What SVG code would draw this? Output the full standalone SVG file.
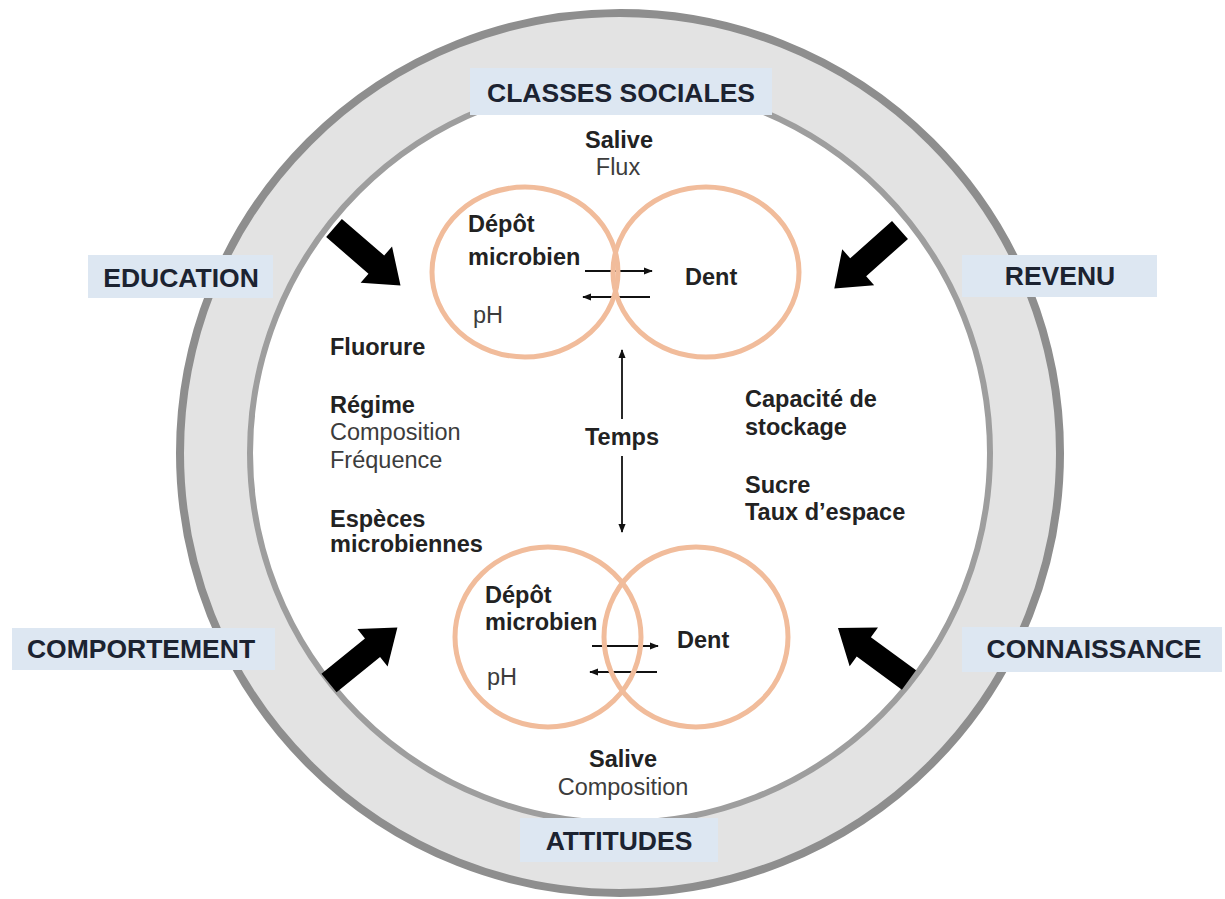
<svg xmlns="http://www.w3.org/2000/svg" width="1225" height="899" viewBox="0 0 1225 899">
<defs>
<style>
text{font-family:"Liberation Sans",Arial,sans-serif}
.lab{font-size:26.5px;font-weight:bold;fill:#1c2331;text-anchor:middle}
.box{fill:#dde7f2}
.b{font-size:23.5px;font-weight:bold;fill:#222}
.r{font-size:23.5px;fill:#3c3c3c}
.mid{text-anchor:middle}
.orb{fill:none;stroke:#f1bc9b;stroke-width:5}
.thin{fill:none;stroke:#111;stroke-width:1.8}
.big{fill:#000}
</style>
<marker id="ah" viewBox="0 0 10 10" refX="9" refY="5" markerWidth="9" markerHeight="9" markerUnits="userSpaceOnUse" orient="auto">
<path d="M0,1 L10,5 L0,9 Z" fill="#111"/>
</marker>
<path id="bigarrow" d="M0,-12 L56,-12 L56,-24 L88,0 L56,24 L56,12 L0,12 Z"/>
</defs>

<g id="ring">
<circle cx="620" cy="453" r="405" fill="none" stroke="#e3e3e3" stroke-width="70"/>
<circle cx="620" cy="453" r="440" fill="none" stroke="#8e8e8e" stroke-width="8"/>
<circle cx="620" cy="453" r="370" fill="#fff" stroke="#9e9e9e" stroke-width="6"/>
</g>

<g id="connectors">
<use href="#bigarrow" class="big" transform="translate(334,228) rotate(40.9)"/>
<use href="#bigarrow" class="big" transform="translate(900,230) rotate(138.3)"/>
<use href="#bigarrow" class="big" transform="translate(329,683) rotate(-39)"/>
<use href="#bigarrow" class="big" transform="translate(909,680) rotate(216.2)"/>
<line class="thin" x1="585" y1="271" x2="652" y2="271" marker-end="url(#ah)"/>
<line class="thin" x1="650" y1="297" x2="583" y2="297" marker-end="url(#ah)"/>
<line class="thin" x1="592" y1="646" x2="658" y2="646" marker-end="url(#ah)"/>
<line class="thin" x1="657" y1="672" x2="590" y2="672" marker-end="url(#ah)"/>
<line class="thin" x1="622" y1="419" x2="622" y2="350" marker-end="url(#ah)"/>
<line class="thin" x1="622" y1="456" x2="622" y2="532" marker-end="url(#ah)"/>
</g>

<g id="top-pair">
<ellipse class="orb" cx="525" cy="272" rx="93" ry="85"/>
<ellipse class="orb" cx="706" cy="272" rx="93" ry="85"/>
<text class="b" x="468" y="232">Dépôt</text>
<text class="b" x="468" y="265">microbien</text>
<text class="r" x="473" y="323">pH</text>
<text class="b" x="685" y="285">Dent</text>
</g>

<g id="bottom-pair">
<ellipse class="orb" cx="548" cy="637" rx="93" ry="90"/>
<ellipse class="orb" cx="696" cy="637" rx="92" ry="90"/>
<text class="b" x="485" y="603">Dépôt</text>
<text class="b" x="485" y="630">microbien</text>
<text class="r" x="487" y="685">pH</text>
<text class="b" x="677" y="648">Dent</text>
</g>

<g id="salive-top">
<text class="b mid" x="619" y="148">Salive</text>
<text class="r mid" x="618" y="175">Flux</text>
</g>
<g id="salive-bottom">
<text class="b mid" x="623" y="767">Salive</text>
<text class="r mid" x="623" y="795">Composition</text>
</g>
<g id="temps">
<text class="b mid" x="622" y="445">Temps</text>
</g>
<g id="left-factors">
<text class="b" x="330" y="355">Fluorure</text>
<text class="b" x="330" y="413">Régime</text>
<text class="r" x="330" y="440">Composition</text>
<text class="r" x="330" y="468">Fréquence</text>
<text class="b" x="330" y="527">Espèces</text>
<text class="b" x="330" y="552">microbiennes</text>
</g>
<g id="right-factors">
<text class="b" x="745" y="407">Capacité de</text>
<text class="b" x="745" y="435">stockage</text>
<text class="b" x="745" y="493">Sucre</text>
<text class="b" x="745" y="520">Taux d’espace</text>
</g>

<g id="classes-sociales">
<rect class="box" x="470" y="68" width="302" height="47"/>
<text class="lab" x="621" y="102">CLASSES SOCIALES</text>
</g>
<g id="education">
<rect class="box" x="88" y="255" width="185" height="43"/>
<text class="lab" x="181" y="287">EDUCATION</text>
</g>
<g id="revenu">
<rect class="box" x="962" y="255" width="195" height="42"/>
<text class="lab" x="1060" y="285">REVENU</text>
</g>
<g id="comportement">
<rect class="box" x="12" y="628" width="263" height="42"/>
<text class="lab" x="141" y="658">COMPORTEMENT</text>
</g>
<g id="connaissance">
<rect class="box" x="962" y="627" width="260" height="45"/>
<text class="lab" x="1094" y="658">CONNAISSANCE</text>
</g>
<g id="attitudes">
<rect class="box" x="520" y="818" width="198" height="44"/>
<text class="lab" x="619" y="850">ATTITUDES</text>
</g>
</svg>
